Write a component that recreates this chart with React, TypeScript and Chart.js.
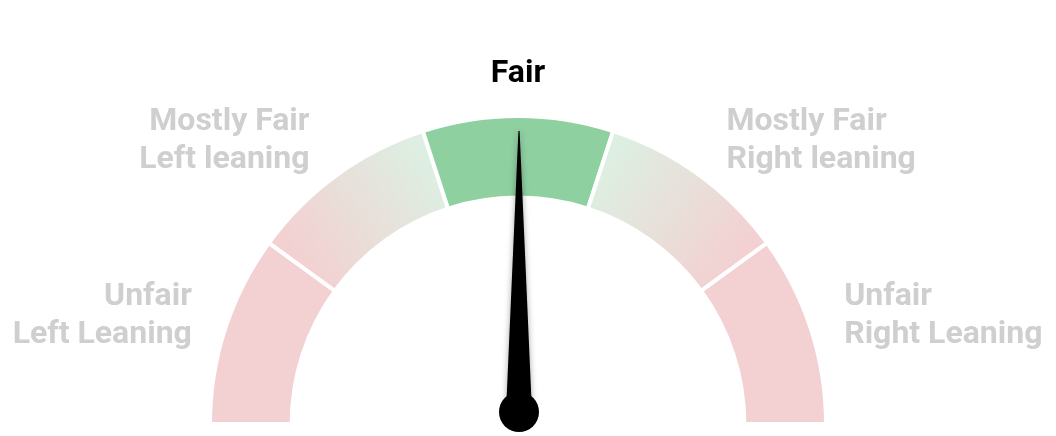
import React, { useEffect, useRef } from "react";
import { Chart, registerables } from "chart.js";

Chart.register(...registerables);

// ---- data ----
const categories = [
  "Unfair Left Leaning",
  "Mostly Fair Left leaning",
  "Fair",
  "Mostly Fair Right leaning",
  "Unfair Right Leaning",
];
const labelLines = [
  ["Unfair", "Left Leaning"],
  ["Mostly Fair", "Left leaning"],
  ["Fair"],
  ["Mostly Fair", "Right leaning"],
  ["Unfair", "Right Leaning"],
];
const segmentValues = [20, 20, 20, 20, 20];
const needleValue = 50; // position on 0..100 scale

// ---- style ----
const PINK = "rgb(243,208,209)";
const GREEN = "rgb(143,208,161)";
const LIGHT = "rgb(221,239,226)";
const segmentStartColors = [PINK, PINK, GREEN, LIGHT, PINK];
const segmentEndColors = [PINK, LIGHT, GREEN, PINK, PINK];
const OUTER_RADIUS = 308;
const LABEL_RADIUS = 350;
const LABEL_RX = 324;
const LABEL_GAP = 18;
const FONT = "700 32px Roboto";
const LINE_HEIGHT = 38;

function total() {
  return segmentValues.reduce((a, b) => a + b, 0);
}

function segmentAngles(i: number) {
  const t = total();
  let acc = 0;
  for (let k = 0; k < i; k++) acc += segmentValues[k];
  const a0 = Math.PI + (acc / t) * Math.PI;
  const a1 = Math.PI + ((acc + segmentValues[i]) / t) * Math.PI;
  return [a0, a1];
}

const gaugePlugin = {
  id: "gaugeExtras",
  afterDatasetsDraw(chart: any) {
    const meta = chart.getDatasetMeta(0);
    if (!meta.data.length) return;
    const arc = meta.data[0];
    const cx = arc.x;
    const cy = arc.y;
    const ctx = chart.ctx;
    const t = total();

    // labels
    let acc = 0;
    const activeIndex = (() => {
      let s = 0;
      for (let i = 0; i < segmentValues.length; i++) {
        s += segmentValues[i];
        if ((needleValue / 100) * t < s) return i;
      }
      return segmentValues.length - 1;
    })();
    ctx.save();
    ctx.font = FONT;
    ctx.textBaseline = "middle";
    for (let i = 0; i < segmentValues.length; i++) {
      const mid = Math.PI + ((acc + segmentValues[i] / 2) / t) * Math.PI;
      acc += segmentValues[i];
      const c = Math.cos(mid);
      const side = c < -0.1 ? -1 : c > 0.1 ? 1 : 0;
      const x = cx + c * LABEL_RX + side * LABEL_GAP;
      const y = cy + LABEL_RADIUS * Math.sin(mid);
      ctx.textAlign = side < 0 ? "right" : side > 0 ? "left" : "center";
      ctx.fillStyle = i === activeIndex ? "#000000" : "#cfcfcf";
      const lines = labelLines[i];
      lines.forEach((ln, k) => {
        ctx.fillText(ln, x, y + (k - (lines.length - 1) / 2) * LINE_HEIGHT);
      });
    }
    ctx.restore();

    // needle
    const theta = Math.PI + (needleValue / 100) * Math.PI;
    const len = 281;
    ctx.save();
    ctx.translate(cx + 1, cy - 12);
    ctx.rotate(theta);
    ctx.shadowColor = "rgba(0,0,0,0.35)";
    ctx.shadowBlur = 6;
    ctx.fillStyle = "#000000";
    ctx.beginPath();
    ctx.moveTo(0, -13);
    ctx.lineTo(len, -0.6);
    ctx.lineTo(len, 0.6);
    ctx.lineTo(0, 13);
    ctx.closePath();
    ctx.fill();
    ctx.shadowBlur = 0;
    ctx.beginPath();
    ctx.arc(0, 0, 20, 0, Math.PI * 2);
    ctx.fill();
    ctx.restore();
  },
};

export default function App() {
  const ref = useRef<HTMLCanvasElement | null>(null);
  useEffect(() => {
    if (!ref.current) return;
    const chart = new Chart(ref.current, {
      type: "doughnut",
      data: {
        labels: categories,
        datasets: [
          {
            data: segmentValues,
            backgroundColor: (c: any) => {
              const i = c.dataIndex;
              const ch = c.chart;
              const area = ch.chartArea;
              if (!area || i === undefined) return segmentStartColors[i ?? 0];
              if (segmentStartColors[i] === segmentEndColors[i]) return segmentStartColors[i];
              const cx = (area.left + area.right) / 2;
              const cy = (area.top + area.bottom) / 2 + OUTER_RADIUS * 0.5;
              const [a0, a1] = segmentAngles(i);
              const r = OUTER_RADIUS * 0.87;
              const g = ch.ctx.createLinearGradient(
                cx + r * Math.cos(a0),
                cy + r * Math.sin(a0),
                cx + r * Math.cos(a1),
                cy + r * Math.sin(a1)
              );
              g.addColorStop(0, segmentStartColors[i]);
              g.addColorStop(1, segmentEndColors[i]);
              return g;
            },
            borderColor: "#ffffff",
            borderWidth: 4,
          },
        ],
      },
      options: {
        animation: false,
        responsive: true,
        maintainAspectRatio: false,
        rotation: -90,
        circumference: 180,
        radius: OUTER_RADIUS,
        cutout: "73.5%",
        events: [],
        layout: { padding: { left: 0, right: 20, top: 104, bottom: 0 } },
        plugins: {
          legend: { display: false },
          tooltip: { enabled: false },
        },
      },
      plugins: [gaugePlugin],
    });
    return () => chart.destroy();
  }, []);
  return (
    <div style={{ position: "fixed", left: 0, top: 0, width: 1056, height: 436, background: "#fff" }}>
      <canvas ref={ref} />
    </div>
  );
}
